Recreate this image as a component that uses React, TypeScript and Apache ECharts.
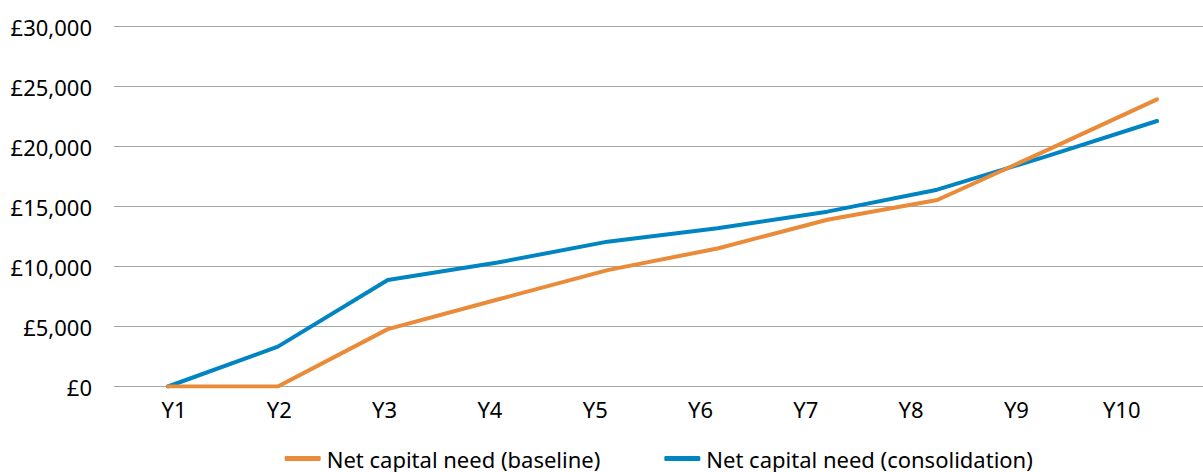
import React, { useEffect, useRef } from "react";
import * as echarts from "echarts";

const years = ["Y1", "Y2", "Y3", "Y4", "Y5", "Y6", "Y7", "Y8", "Y9", "Y10"];
const baseline = [0, 0, 4780, 7250, 9700, 11500, 13900, 15540, 19700, 23930];
const consolidation = [0, 3320, 8880, 10330, 12070, 13180, 14570, 16400, 19200, 22125];
const seriesNames = ["Net capital need (baseline)", "Net capital need (consolidation)"];
const seriesColors = ["#E98B38", "#0085C2"];
const yMin = 0;
const yMax = 30000;
const yStep = 5000;

const fmt = (v: number) => "£" + String(v).replace(/\B(?=(\d{3})+(?!\d))/g, ",");

export default function App() {
  const ref = useRef<HTMLDivElement>(null);
  useEffect(() => {
    document.body.style.margin = "0";
    const chart = echarts.init(ref.current!, null, { renderer: "svg" });
    const top = 26.5;
    const bottom = 85.5;
    chart.setOption({
      animation: false,
      textStyle: { fontFamily: "Noto Sans" },
      grid: [
        { left: 114, right: 0, top, bottom },
        { left: 168, right: 46, top, bottom },
        { left: 121.35, right: 28.65, top, bottom },
      ],
      xAxis: [
        { gridIndex: 0, type: "category", data: years, show: false },
        { gridIndex: 1, type: "category", data: years, boundaryGap: false, show: false },
        {
          gridIndex: 2,
          type: "category",
          data: years,
          boundaryGap: true,
          axisLine: { show: false },
          axisTick: { show: false },
          axisLabel: { margin: 11, fontSize: 22, color: "#000", fontFamily: "Noto Sans" },
        },
      ],
      yAxis: [
        {
          gridIndex: 0,
          type: "value",
          min: yMin,
          max: yMax,
          interval: yStep,
          axisLine: { show: false },
          axisTick: { show: false },
          axisLabel: { formatter: fmt, fontSize: 22, margin: 22, color: "#000", fontFamily: "Noto Sans" },
          splitLine: { lineStyle: { color: "#a6a6a6", width: 1.2 } },
        },
        { gridIndex: 1, type: "value", min: yMin, max: yMax, show: false },
        { gridIndex: 2, type: "value", min: yMin, max: yMax, show: false },
      ],
      legend: {
        data: seriesNames,
        left: 284.7,
        top: 447.5,
        padding: 0,
        icon: "roundRect",
        itemWidth: 36,
        itemHeight: 5,
        itemGap: 64,
        selectedMode: false,
        textStyle: { fontSize: 22, color: "#000", fontFamily: "Noto Sans", padding: [0, 0, 0, 1] },
      },
      series: [
        {
          name: seriesNames[0],
          type: "line",
          xAxisIndex: 1,
          yAxisIndex: 1,
          data: baseline,
          symbol: "none",
          z: 3,
          itemStyle: { color: seriesColors[0] },
          lineStyle: { color: seriesColors[0], width: 4, cap: "round", join: "round" },
        },
        {
          name: seriesNames[1],
          type: "line",
          xAxisIndex: 1,
          yAxisIndex: 1,
          data: consolidation,
          symbol: "none",
          z: 2,
          itemStyle: { color: seriesColors[1] },
          lineStyle: { color: seriesColors[1], width: 4, cap: "round", join: "round" },
        },
      ],
    });
    return () => chart.dispose();
  }, []);
  return <div ref={ref} style={{ width: 1203, height: 472 }} />;
}
